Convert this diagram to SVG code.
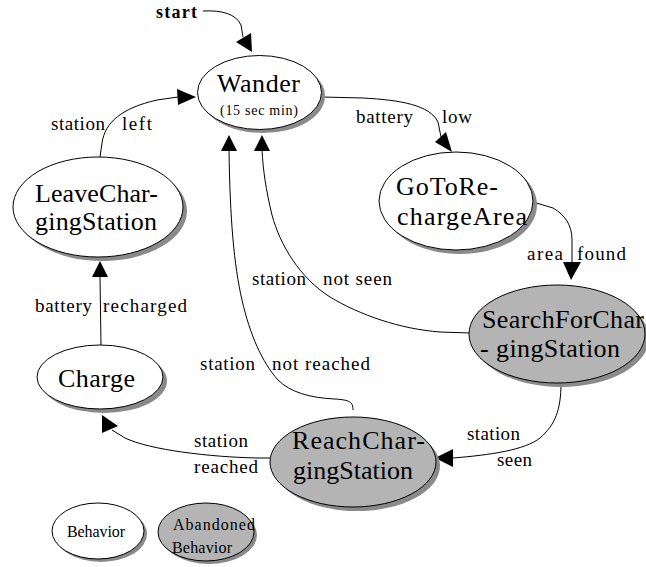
<svg xmlns="http://www.w3.org/2000/svg" width="646" height="567" viewBox="0 0 646 567">
<defs>
<style>
.sh{fill:#8a8a8a;stroke:none}
.nb{fill:#ffffff;stroke:#000;stroke-width:1}
.na{fill:#b4b4b4;stroke:#000;stroke-width:1}
.nt{font-family:"Liberation Serif","Times New Roman",serif;font-size:26px;fill:#000}
.et{font-family:"Liberation Serif","Times New Roman",serif;font-size:19px;fill:#000}
.lt{font-family:"Liberation Serif","Times New Roman",serif;font-size:16px;fill:#000}
.st{font-family:"Liberation Serif","Times New Roman",serif;font-size:14px;fill:#000}
.e{fill:none;stroke:#000;stroke-width:1}
.ah{fill:#000;stroke:none}
</style>
</defs>
<rect width="646" height="567" fill="#fff"/>

<g id="connectors">
<path class="e" d="M203,11 C222,10 236,14 241,25 L243,37"/>
<polygon class="ah" points="236,42 251,33 252,52"/>
<path class="e" d="M322,97 L363,98 C400,100 430,105 438,122 L441,137"/>
<polygon class="ah" points="435,142 446,132 452,152"/>
<path class="e" d="M533,202 L553,208 C565,215 572,225 572,240 L572,263"/>
<polygon class="ah" points="563,262 581,262 571,280"/>
<path class="e" d="M470,333 L440,332 C400,329 360,315 330,297 C300,278 280,245 272,215 C266,190 263,170 262,150"/>
<polygon class="ah" points="254,151 270,151 262,135"/>
<path class="e" d="M353,410 C353,402 350,400 335,399 C310,398 290,392 278,380 C262,362 250,335 242,300 C234,265 230,220 229,150"/>
<polygon class="ah" points="221,151 237,151 229,135"/>
<path class="e" d="M270,458 L257,458 C210,457 150,450 125,438 L112,430"/>
<polygon class="ah" points="102,433 118,426 102,415"/>
<path class="e" d="M561,383 C561,410 555,425 540,438 C525,450 490,455 453,458"/>
<polygon class="ah" points="453,449 453,467 435,458"/>
<path class="e" d="M100,157 L102,143 C105,122 122,108 157,100 L178,97"/>
<polygon class="ah" points="177,89 178,105 196,97"/>
<path class="e" d="M101,345 L100,277"/>
<polygon class="ah" points="92,277 108,277 100,261"/>
</g>

<g id="edge-labels">
<text x="156" y="18" font-family="Liberation Serif, Times New Roman, serif" font-size="18" font-weight="bold" textLength="41" lengthAdjust="spacing">start</text>
<text class="et" x="51" y="130" textLength="54" lengthAdjust="spacing">station</text>
<text class="et" x="122" y="130" textLength="30" lengthAdjust="spacing">left</text>
<text class="et" x="356" y="123" textLength="57" lengthAdjust="spacing">battery</text>
<text class="et" x="442" y="123" textLength="30" lengthAdjust="spacing">low</text>
<text class="et" x="527" y="260" textLength="36" lengthAdjust="spacing">area</text>
<text class="et" x="577" y="260" textLength="49" lengthAdjust="spacing">found</text>
<text class="et" x="252" y="285" textLength="54" lengthAdjust="spacing">station</text>
<text class="et" x="323" y="285" textLength="69" lengthAdjust="spacing">not seen</text>
<text class="et" x="35" y="312" textLength="57" lengthAdjust="spacing">battery</text>
<text class="et" x="103" y="312" textLength="84" lengthAdjust="spacing">recharged</text>
<text class="et" x="200" y="370" textLength="55" lengthAdjust="spacing">station</text>
<text class="et" x="272" y="370" textLength="98" lengthAdjust="spacing">not reached</text>
<text class="et" x="194" y="447" textLength="54" lengthAdjust="spacing">station</text>
<text class="et" x="194" y="473" textLength="64" lengthAdjust="spacing">reached</text>
<text class="et" x="467" y="440" textLength="53" lengthAdjust="spacing">station</text>
<text class="et" x="497" y="466" textLength="35" lengthAdjust="spacing">seen</text>
</g>

<g id="wander">
<ellipse class="sh" cx="263" cy="96" rx="62" ry="37"/>
<ellipse class="nb" cx="259.5" cy="92.5" rx="62" ry="37"/>
<text class="nt" x="217" y="92" textLength="83" lengthAdjust="spacing">Wander</text>
<text class="st" x="220" y="115" textLength="78" lengthAdjust="spacing">(15 sec min)</text>
</g>

<g id="gotorechargearea">
<ellipse class="sh" cx="460" cy="205" rx="77" ry="49"/>
<ellipse class="nb" cx="456" cy="201" rx="77" ry="49"/>
<text class="nt" x="396" y="195" textLength="102" lengthAdjust="spacing">GoToRe-</text>
<text class="nt" x="397" y="225" textLength="130" lengthAdjust="spacing">chargeArea</text>
</g>

<g id="leavechargingstation">
<ellipse class="sh" cx="102" cy="211" rx="85" ry="50"/>
<ellipse class="nb" cx="98" cy="207" rx="85" ry="50"/>
<text class="nt" x="35" y="202" textLength="123" lengthAdjust="spacing">LeaveChar-</text>
<text class="nt" x="35" y="230" textLength="122" lengthAdjust="spacing">gingStation</text>
</g>

<g id="searchforchargingstation">
<ellipse class="sh" cx="561" cy="338" rx="88" ry="49"/>
<ellipse class="na" cx="557" cy="334" rx="88" ry="49"/>
<text class="nt" x="482" y="328" textLength="162" lengthAdjust="spacing">SearchForChar</text>
<text class="nt" x="480" y="357" textLength="140" lengthAdjust="spacing">- gingStation</text>
</g>

<g id="charge">
<ellipse class="sh" cx="104" cy="381" rx="63" ry="32"/>
<ellipse class="nb" cx="100" cy="377" rx="63" ry="32"/>
<text class="nt" x="58" y="387" textLength="77" lengthAdjust="spacing">Charge</text>
</g>

<g id="reachchargingstation">
<ellipse class="sh" cx="357" cy="466" rx="83" ry="45"/>
<ellipse class="na" cx="353" cy="462" rx="83" ry="45"/>
<text class="nt" x="292" y="449" textLength="133" lengthAdjust="spacing">ReachChar-</text>
<text class="nt" x="293" y="479" textLength="120" lengthAdjust="spacing">gingStation</text>
</g>

<g id="legend-behavior">
<ellipse class="sh" cx="101" cy="534" rx="46" ry="28"/>
<ellipse class="nb" cx="98" cy="531" rx="46" ry="28"/>
<text class="lt" x="67" y="537" textLength="58" lengthAdjust="spacing">Behavior</text>
</g>

<g id="legend-abandoned">
<ellipse class="sh" cx="209" cy="535" rx="48" ry="29"/>
<ellipse class="na" cx="206" cy="532" rx="48" ry="29"/>
<text class="lt" x="173" y="530" textLength="82" lengthAdjust="spacing">Abandoned</text>
<text class="lt" x="172" y="553" textLength="60" lengthAdjust="spacing">Behavior</text>
</g>
</svg>
